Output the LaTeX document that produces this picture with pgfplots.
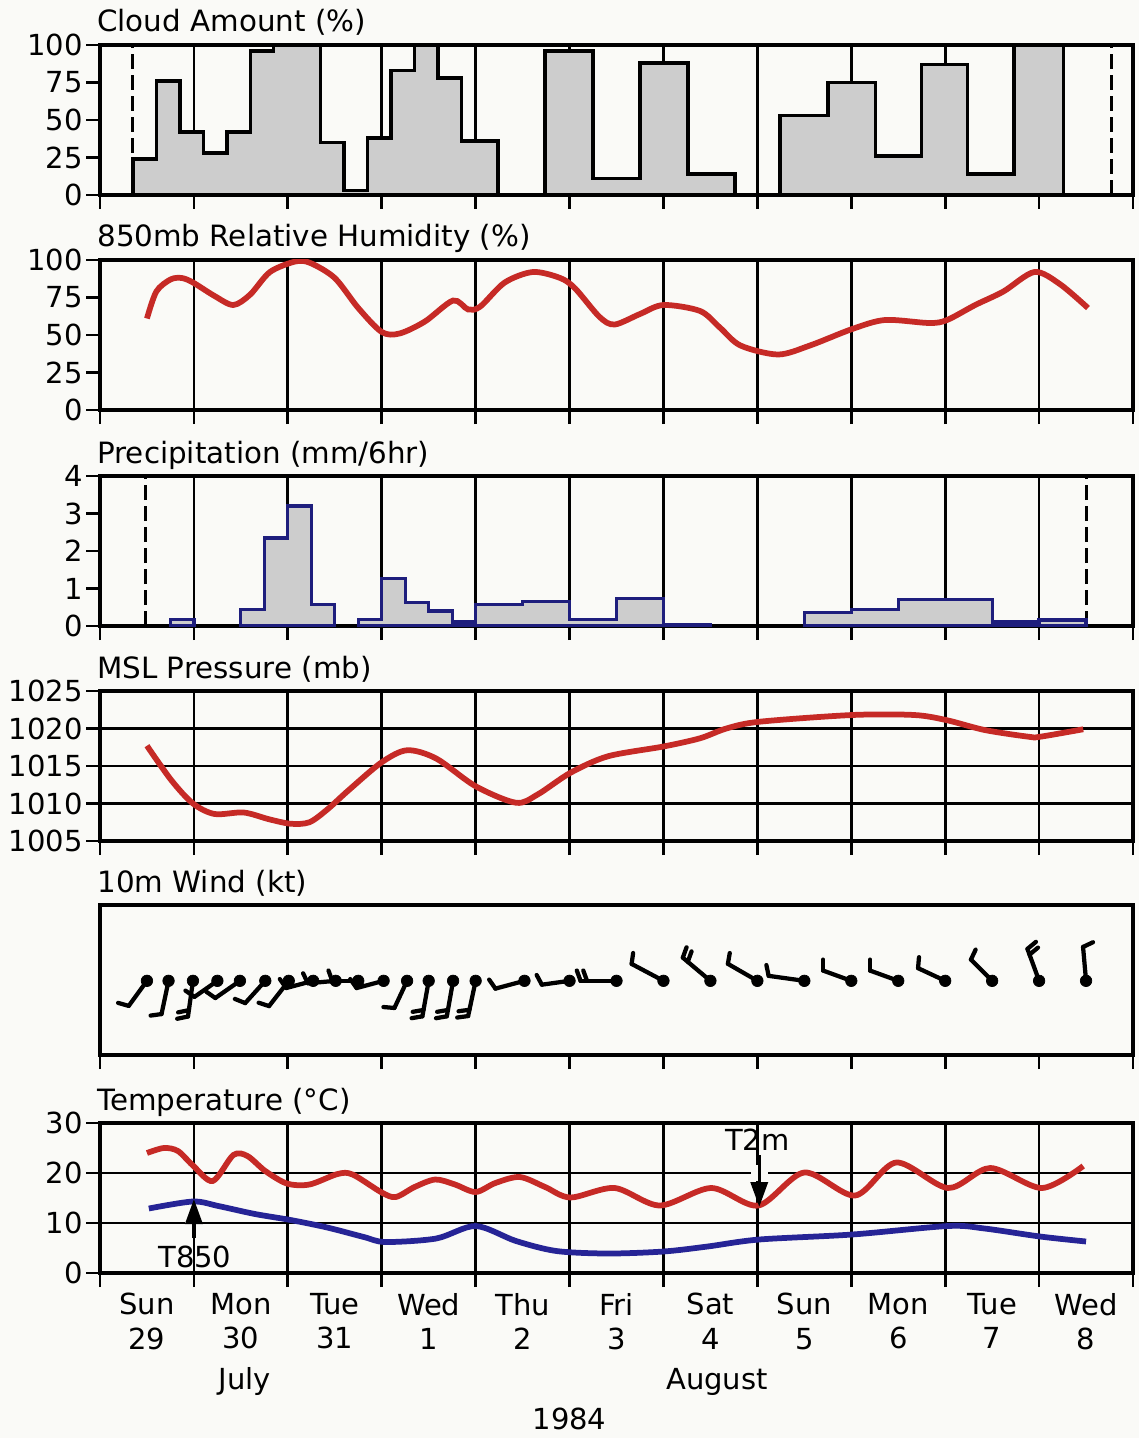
\documentclass[border=0pt]{standalone}
\usepackage{fontspec}
\setmainfont{DejaVu Sans}
\usepackage{pgfplots}
\usepackage{pgfplotstable}
\pgfplotsset{compat=1.18}
\usetikzlibrary{arrows.meta}

\definecolor{paper}{RGB}{250,250,247}
\definecolor{tred}{RGB}{198,42,38}
\definecolor{tblue}{RGB}{38,36,150}
\definecolor{pblue}{RGB}{30,30,125}
\definecolor{shade}{RGB}{205,205,205}

\newcommand{\tfont}{\fontsize{16.7}{18}\selectfont}
\newcommand{\lfont}{\fontsize{16.5}{19.5}\selectfont}

\tikzset{ptitle/.style={anchor=base west, inner sep=0pt, font=\tfont, xshift=-0.6mm, yshift=2.6mm}}

\pgfplotsset{
  panel/.style={
    scale only axis, width=206.6mm, height=30mm,
    xmin=0, xmax=11, xtick={0,...,11}, xticklabels={},
    tick align=outside, xtick pos=left, ytick pos=left,
    major tick length=2.8mm,
    axis line style={line width=0.65mm},
    tick style={line width=0.55mm, black},
    grid style={line width=0.55mm, black},
    tick label style={font=\lfont, inner sep=0.6mm},
    clip mode=individual,
  },
  bars/.style={const plot, draw=black, line width=0.7mm, fill=shade},
  pbars/.style={const plot, draw=pblue, line width=0.65mm, fill=shade},
  marker line/.style={black, line width=0.6mm, dash pattern=on 3mm off 1.2mm},
}

% wind: position of the station dot and the staff (days, same scale on both axes)
\pgfplotstableread{
x y u v
0.50 0.79 -0.194 -0.267
0.73 0.79 -0.075 -0.354
0.99 0.79 -0.053 -0.380
1.25 0.79 -0.244 -0.171
1.49 0.79 -0.262 -0.183
1.76 0.79 -0.214 -0.237
2.01 0.79 -0.210 -0.269
2.27 0.79 -0.288 -0.077
2.51 0.79 -0.297 -0.026
2.75 0.79 -0.277 0
3.02 0.79 -0.288 -0.077
3.27 0.79 -0.135 -0.289
3.50 0.79 -0.067 -0.378
3.76 0.79 -0.067 -0.378
4.00 0.79 -0.080 -0.375
4.52 0.79 -0.309 -0.083
5.00 0.79 -0.295 -0.041
5.50 0.79 -0.383 0
6.00 0.79 -0.339 0.180
6.50 0.79 -0.294 0.247
7.00 0.79 -0.314 0.181
7.50 0.79 -0.380 0.053
8.00 0.79 -0.300 0.109
8.50 0.79 -0.300 0.109
9.00 0.79 -0.289 0.135
9.50 0.79 -0.226 0.226
10.00 0.79 -0.124 0.340
10.50 0.79 -0.032 0.361
}\windstaff

% wind: feathers, starting at the staff ends
\pgfplotstableread{
x y u v
0.306 0.523 -0.113 0.032
0.655 0.436 -0.116 -0.016
0.937 0.410 -0.115 -0.024
0.947 0.478 -0.115 -0.024
1.006 0.619 -0.096 0.067
1.228 0.607 -0.096 0.067
1.546 0.553 -0.109 0.044
1.800 0.521 -0.111 0.036
1.982 0.713 -0.067 0.096
2.213 0.764 -0.050 0.106
2.473 0.790 -0.040 0.110
2.732 0.713 -0.067 0.096
3.135 0.501 -0.117 0.010
3.433 0.412 -0.115 -0.020
3.445 0.480 -0.115 -0.020
3.693 0.412 -0.115 -0.020
3.705 0.480 -0.115 -0.020
3.920 0.415 -0.116 -0.016
3.934 0.482 -0.116 -0.016
4.211 0.707 -0.067 0.096
4.705 0.749 -0.055 0.103
5.117 0.790 -0.040 0.110
5.186 0.790 -0.040 0.110
5.661 0.970 0.016 0.116
6.206 1.037 0.040 0.110
6.259 0.993 0.040 0.110
6.686 0.971 0.020 0.115
7.120 0.843 -0.024 0.115
7.700 0.899 0 0.117
8.200 0.899 0 0.117
8.711 0.925 0.010 0.117
9.274 1.016 0.050 0.106
9.876 1.130 0.090 0.075
9.898 1.069 0.090 0.075
10.468 1.151 0.106 0.050
}\windfeather

\begin{document}
\begin{tikzpicture}
\path[use as bounding box, fill=paper] (0,0) rectangle (227.8mm,-287.6mm);

% Cloud amount
\begin{axis}[panel, at={(20mm,-39mm)}, anchor=south west,
  ymin=0, ymax=100, ytick={0,25,50,75,100}, yticklabels={0,25,50,75,100}, xmajorgrids]
  \addplot[marker line] coordinates {(0.35,0) (0.35,100)};
  \addplot[marker line] coordinates {(10.77,0) (10.77,100)};
  \addplot[bars] coordinates {(0.35,24) (0.60,76) (0.85,42) (1.10,28) (1.35,42) (1.60,96) (1.85,100) (2.35,35) (2.60,3) (2.85,38) (3.10,83) (3.35,100) (3.60,78) (3.85,36) (4.24,36)} \closedcycle;
  \addplot[bars] coordinates {(4.74,96) (5.25,11) (5.75,88) (6.26,14) (6.76,14)} \closedcycle;
  \addplot[bars] coordinates {(7.24,53) (7.75,75) (8.26,26) (8.75,87) (9.24,14) (9.73,100) (10.26,100)} \closedcycle;
  \node[ptitle] at (rel axis cs:0,1) {Cloud Amount (\%)};
\end{axis}

% 850mb relative humidity
\begin{axis}[panel, at={(20mm,-82mm)}, anchor=south west,
  ymin=0, ymax=100, ytick={0,25,50,75,100}, yticklabels={0,25,50,75,100}, xmajorgrids]
  \addplot[tred, line width=1.15mm, smooth] coordinates {
    (0.50,61) (0.60,79) (0.75,87) (0.87,88) (0.99,85) (1.22,76) (1.42,70) (1.60,77)
    (1.81,92) (2.08,99) (2.24,98) (2.50,88) (2.75,68) (3.00,52) (3.19,51) (3.46,59)
    (3.76,73) (3.92,67) (4.05,69) (4.31,85) (4.61,92) (4.90,88) (5.06,81) (5.32,62)
    (5.48,57) (5.75,64) (6.00,70) (6.39,66) (6.60,55) (6.82,43) (7.22,37) (7.56,43)
    (8.01,54) (8.36,60) (8.83,58) (9.02,60) (9.32,70) (9.62,79) (9.95,92) (10.22,84) (10.52,68)};
  \node[ptitle] at (rel axis cs:0,1) {850mb Relative Humidity (\%)};
\end{axis}

% Precipitation
\begin{axis}[panel, at={(20mm,-125.2mm)}, anchor=south west,
  ymin=0, ymax=4, ytick={0,1,2,3,4}, yticklabels={0,1,2,3,4}, xmajorgrids]
  \addplot[marker line] coordinates {(0.485,0) (0.485,4)};
  \addplot[marker line] coordinates {(10.5,0) (10.5,4)};
  \addplot[pbars] coordinates {(0.75,0.18) (1.0,0.18)} \closedcycle;
  \addplot[pbars] coordinates {(1.5,0.45) (1.75,2.35) (2.0,3.2) (2.25,0.58) (2.5,0.58)} \closedcycle;
  \addplot[pbars] coordinates {(2.75,0.17) (3.0,1.27) (3.25,0.63) (3.5,0.4) (3.75,0.11) (4.0,0.57) (4.5,0.66) (5.0,0.17) (5.5,0.74) (6.0,0.03) (6.5,0.03)} \closedcycle;
  \addplot[pbars] coordinates {(7.5,0.37) (8.0,0.44) (8.5,0.7) (9.5,0.11) (10.0,0.16) (10.5,0.16)} \closedcycle;
  \node[ptitle] at (rel axis cs:0,1) {Precipitation (mm/6hr)};
\end{axis}

% MSL pressure
\begin{axis}[panel, at={(20mm,-168.2mm)}, anchor=south west,
  ymin=1005, ymax=1025, ytick={1005,1010,1015,1020,1025}, yticklabels={1005,1010,1015,1020,1025},
  xmajorgrids, ymajorgrids]
  \addplot[tred, line width=1.15mm, smooth] coordinates {
    (0.50,1017.7) (0.76,1013.1) (0.99,1010.0) (1.22,1008.6) (1.53,1008.8) (1.80,1007.9)
    (2.03,1007.3) (2.23,1007.5) (2.42,1009.2) (2.65,1011.8) (3.00,1015.5) (3.27,1017.1)
    (3.58,1016.0) (4.00,1012.3) (4.43,1010.1) (4.66,1011.2) (5.01,1014.1) (5.41,1016.3)
    (6.00,1017.6) (6.39,1018.7) (6.67,1020.0) (7.02,1020.9) (8.01,1021.8) (8.67,1021.8)
    (9.02,1021.1) (9.42,1019.8) (9.89,1018.9) (10.01,1018.9) (10.47,1019.9)};
  \node[ptitle] at (rel axis cs:0,1) {MSL Pressure (mb)};
\end{axis}

% 10m wind
\begin{axis}[panel, at={(20mm,-211mm)}, anchor=south west,
  ymin=0, ymax=1.5975, ytick=\empty]
  \addplot[black, line width=0.85mm, line cap=round, -, quiver={u=\thisrow{u}, v=\thisrow{v}}] table {\windstaff};
  \addplot[black, line width=0.85mm, line cap=round, -, quiver={u=\thisrow{u}, v=\thisrow{v}}] table {\windfeather};
  \addplot[black, only marks, mark=*, mark size=1.15mm] table[x=x, y=y] {\windstaff};
  \node[ptitle] at (rel axis cs:0,1) {10m Wind (kt)};
\end{axis}

% Temperature
\begin{axis}[panel, at={(20mm,-254.6mm)}, anchor=south west,
  ymin=0, ymax=30, ytick={0,10,20,30}, yticklabels={0,10,20,30},
  xmajorgrids, ymajorgrids,
  extra x ticks={0.5,1.5,2.5,3.5,4.5,5.5,6.5,7.5,8.5,9.5,10.5},
  extra x tick labels={{Sun\\29},{Mon\\30},{Tue\\31},{Wed\\1},{Thu\\2},{Fri\\3},{Sat\\4},{Sun\\5},{Mon\\6},{Tue\\7},{Wed\\8}},
  extra x tick style={grid=none, tick style={draw=none}, tick label style={align=center, yshift=-0.6mm}}]
  \addplot[tred, line width=1.15mm, smooth] coordinates {
    (0.50,24.0) (0.68,25.0) (0.83,24.4) (0.99,21.5) (1.20,18.4) (1.42,23.6) (1.57,23.4)
    (1.76,20.4) (1.99,17.9) (2.23,17.7) (2.53,19.8) (2.69,19.7) (3.00,16.1) (3.15,15.2)
    (3.35,17.2) (3.57,18.7) (3.78,17.7) (4.00,16.2) (4.21,18.0) (4.47,19.2) (4.74,17.2)
    (5.01,15.1) (5.48,17.0) (5.96,13.5) (6.51,17.0) (7.01,13.5) (7.50,20.1) (8.04,15.5)
    (8.48,22.1) (9.03,17.0) (9.48,21.0) (10.03,17.0) (10.47,21.4)};
  \addplot[tblue, line width=1.15mm, smooth] coordinates {
    (0.52,12.9) (0.99,14.3) (1.26,13.4) (1.65,11.8) (2.03,10.6) (2.42,9.1) (2.81,7.2)
    (3.04,6.2) (3.58,6.9) (4.00,9.4) (4.43,6.4) (4.86,4.4) (5.41,3.9) (6.00,4.3)
    (6.47,5.3) (7.02,6.7) (8.01,7.7) (9.03,9.4) (9.42,8.9) (10.01,7.3) (10.50,6.3)};
  \draw[paper, line width=3.4mm] (axis cs:1.0,8.4) -- (axis cs:1.0,11.6);
  \draw[line width=0.7mm, -{Triangle[length=5mm,width=3.4mm]}] (axis cs:1.0,7.0) -- (axis cs:1.0,14.8);
  \node[font=\lfont, anchor=base] at (axis cs:1.01,1.2) {T850};
  \draw[paper, line width=3.4mm] (axis cs:7.02,18.4) -- (axis cs:7.02,21.6);
  \draw[line width=0.7mm, -{Triangle[length=5mm,width=3.4mm]}] (axis cs:7.02,23.6) -- (axis cs:7.02,13.2);
  \node[font=\lfont, anchor=base] at (axis cs:7.0,24.6) {T2m};
  \node[font=\lfont, anchor=base] at (axis cs:1.54,-23.3) {July};
  \node[font=\lfont, anchor=base] at (axis cs:6.57,-23.3) {August};
  \node[font=\lfont, anchor=base] at (axis cs:5.0,-31.2) {1984};
  \node[ptitle] at (rel axis cs:0,1) {Temperature (°C)};
\end{axis}
\end{tikzpicture}
\end{document}
